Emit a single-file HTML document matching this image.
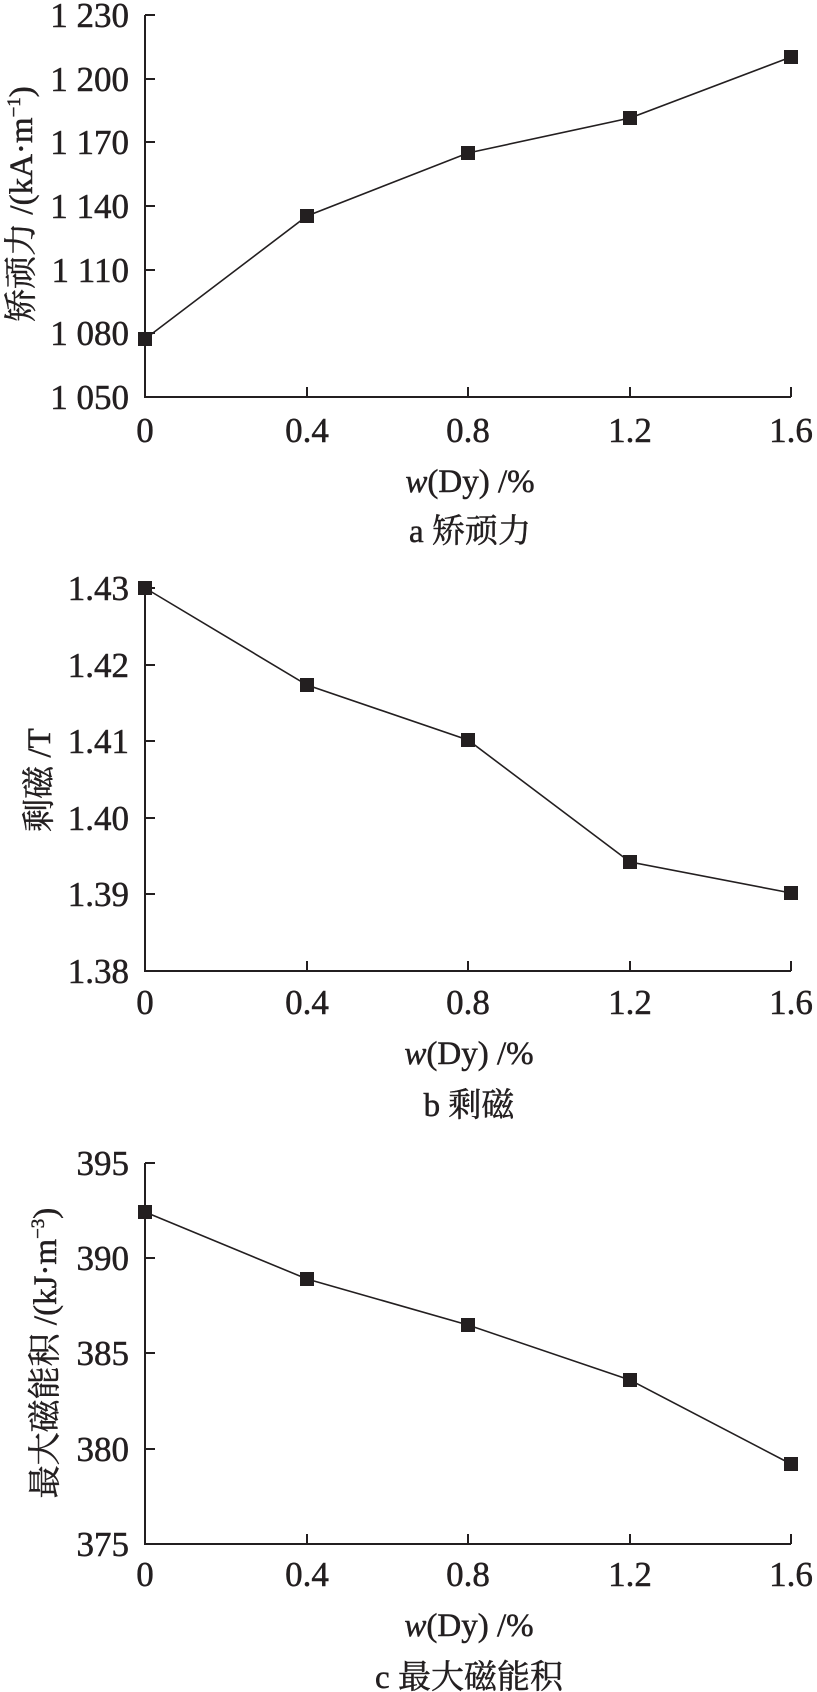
<!DOCTYPE html>
<html><head><meta charset="utf-8"><style>
html,body{margin:0;padding:0;background:#fff;}
svg{display:block;}
text{font-family:"Liberation Serif","Noto Serif CJK SC","Noto Sans CJK SC",serif;fill:#231f20;stroke:#231f20;stroke-width:0.5;}
</style></head><body>
<svg width="817" height="1692" viewBox="0 0 817 1692" xmlns="http://www.w3.org/2000/svg">
<g stroke="#231f20" fill="none">
<!-- chart a -->
<polyline points="145,15 145,397 791,397" stroke-width="2"/>
<path d="M145,15h10M145,79h10M145,142h10M145,206h10M145,270h10M145,333h10M307,397v-10M468,397v-10M630,397v-10M791,397v-10" stroke-width="2"/>
<polyline points="145,339 307,216 468,153 630,118 791,57" stroke-width="1.6"/>
<!-- chart b -->
<polyline points="145,588 145,971 791,971" stroke-width="2"/>
<path d="M145,588h10M145,665h10M145,741h10M145,818h10M145,894h10M307,971v-10M468,971v-10M630,971v-10M791,971v-10" stroke-width="2"/>
<polyline points="145,588 307,685 468,740 630,862 791,893" stroke-width="1.6"/>
<!-- chart c -->
<polyline points="145,1163 145,1544 791,1544" stroke-width="2"/>
<path d="M145,1163h10M145,1258h10M145,1353h10M145,1449h10M307,1544v-10M468,1544v-10M630,1544v-10M791,1544v-10" stroke-width="2"/>
<polyline points="145,1212 307,1279 468,1325 630,1380 791,1464" stroke-width="1.6"/>
</g>
<g fill="#231f20">
<rect x="138" y="332" width="14" height="14"/><rect x="300" y="209" width="14" height="14"/><rect x="461" y="146" width="14" height="14"/><rect x="623" y="111" width="14" height="14"/><rect x="784" y="50" width="14" height="14"/>
<rect x="138" y="581" width="14" height="14"/><rect x="300" y="678" width="14" height="14"/><rect x="461" y="733" width="14" height="14"/><rect x="623" y="855" width="14" height="14"/><rect x="784" y="886" width="14" height="14"/>
<rect x="138" y="1205" width="14" height="14"/><rect x="300" y="1272" width="14" height="14"/><rect x="461" y="1318" width="14" height="14"/><rect x="623" y="1373" width="14" height="14"/><rect x="784" y="1457" width="14" height="14"/>
</g>
<g font-size="35" text-anchor="end">
<text x="129" y="27">1 230</text><text x="129" y="91">1 200</text><text x="129" y="154">1 170</text><text x="129" y="218">1 140</text><text x="129" y="282">1 110</text><text x="129" y="345">1 080</text><text x="129" y="409">1 050</text>
<text x="129" y="600">1.43</text><text x="129" y="677">1.42</text><text x="129" y="753">1.41</text><text x="129" y="830">1.40</text><text x="129" y="906">1.39</text><text x="129" y="983">1.38</text>
<text x="129" y="1175">395</text><text x="129" y="1270">390</text><text x="129" y="1365">385</text><text x="129" y="1461">380</text><text x="129" y="1556">375</text>
</g>
<g font-size="35" text-anchor="middle">
<text x="145" y="442">0</text><text x="307" y="442">0.4</text><text x="468" y="442">0.8</text><text x="630" y="442">1.2</text><text x="791" y="442">1.6</text>
<text x="145" y="1014">0</text><text x="307" y="1014">0.4</text><text x="468" y="1014">0.8</text><text x="630" y="1014">1.2</text><text x="791" y="1014">1.6</text>
<text x="145" y="1586">0</text><text x="307" y="1586">0.4</text><text x="468" y="1586">0.8</text><text x="630" y="1586">1.2</text><text x="791" y="1586">1.6</text>
</g>
<g font-size="33" text-anchor="middle">
<text x="470" y="492"><tspan font-style="italic">w</tspan>(Dy) /%</text>
<text x="470" y="542">a 矫顽力</text>
<text x="469" y="1064"><tspan font-style="italic">w</tspan>(Dy) /%</text>
<text x="469" y="1116">b 剩磁</text>
<text x="469" y="1636"><tspan font-style="italic">w</tspan>(Dy) /%</text>
<text x="469" y="1688">c 最大磁能积</text>
</g>
<g font-size="33" text-anchor="middle">
<text transform="translate(32,204) rotate(-90)">矫顽力 /(kA·m<tspan font-size="19" dy="-12">−1</tspan><tspan dy="12">)</tspan></text>
<text transform="translate(50,780) rotate(-90)">剩磁 /T</text>
<text transform="translate(56,1353) rotate(-90)">最大磁能积 /(kJ·m<tspan font-size="19" dy="-12">−3</tspan><tspan dy="12">)</tspan></text>
</g>
</svg>
</body></html>
